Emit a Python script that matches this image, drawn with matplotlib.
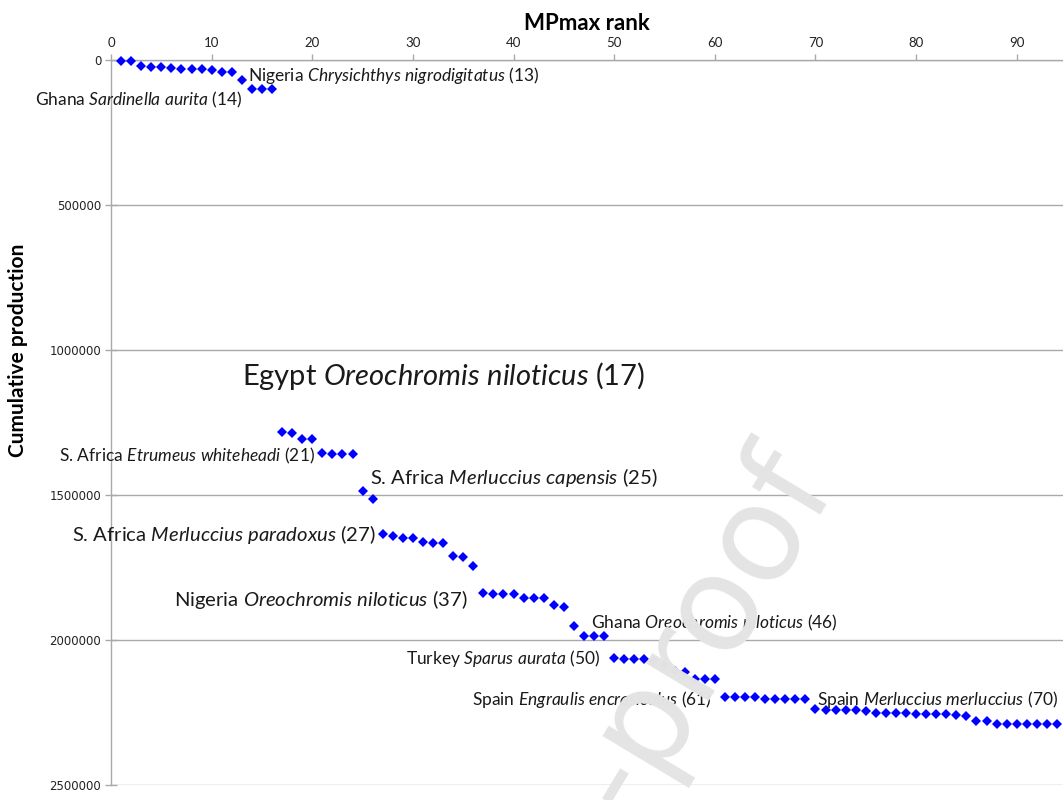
import matplotlib
matplotlib.use("Agg")
import matplotlib.pyplot as plt
from matplotlib.ticker import MultipleLocator, FuncFormatter

plt.rcParams["font.family"] = ["Lato", "DejaVu Sans"]
plt.rcParams["mathtext.fontset"] = "custom"
plt.rcParams["mathtext.rm"] = "Lato"
plt.rcParams["mathtext.it"] = "Lato:italic"

# MPmax rank and cumulative production (tonnes)
rank = list(range(1, 95))
cumulative = [
    3400, 3400, 19500, 23000, 25000, 28700, 32000, 32000, 32000, 34500,
    40000, 40000, 69000, 101000, 101000, 101500, 1281700, 1285000, 1308000, 1308000,
    1356000, 1359000, 1359000, 1359000, 1486000, 1515000, 1635000, 1641000, 1647000, 1647000,
    1663000, 1667000, 1667000, 1709000, 1715000, 1745000, 1837000, 1841000, 1841000, 1841000,
    1856000, 1856000, 1856000, 1879000, 1885000, 1952000, 1986000, 1986000, 1986000, 2061000,
    2064000, 2064000, 2066000, 2071000, 2086000, 2106000, 2109000, 2135000, 2135000, 2135000,
    2195000, 2195000, 2195000, 2195000, 2203000, 2203000, 2203000, 2203000, 2203000, 2238000,
    2240000, 2241000, 2242000, 2243000, 2245000, 2250000, 2252000, 2252000, 2253000, 2254000,
    2255000, 2255000, 2256000, 2260000, 2261000, 2280000, 2281000, 2288000, 2288000, 2288000,
    2288000, 2288000, 2288000, 2289000,
]

# Labelled stocks: rank, country, species
label_rank = [13, 14, 17, 21, 25, 27, 37, 46, 50, 61, 70]
label_country = ["Nigeria", "Ghana", "Egypt", "S. Africa", "S. Africa", "S. Africa",
                 "Nigeria", "Ghana", "Turkey", "Spain", "Spain"]
label_species = ["Chrysichthys nigrodigitatus", "Sardinella aurita", "Oreochromis niloticus",
                 "Etrumeus whiteheadi", "Merluccius capensis", "Merluccius paradoxus",
                 "Oreochromis niloticus", "Oreochromis niloticus", "Sparus aurata",
                 "Engraulis encrasicolus", "Merluccius merluccius"]

# label placement: offset in pixels from the point, alignment, font size
label_offset = [(6, 5), (-9, -11), (-40, 56), (-7, -3), (7, 13), (-7, 0),
                (-16, -7), (17, 3), (-14, -1), (-13, -3), (2, 10)]
label_ha = ["left", "right", "left", "right", "left", "right",
            "right", "left", "right", "right", "left"]
label_size = [12.5, 12.5, 21, 12.5, 14.6, 14.6, 14.6, 12.5, 12.5, 12.5, 12.5]

fig = plt.figure(figsize=(10.63, 8.0), dpi=100)
ax = fig.add_axes([111 / 1063, 15 / 800, 1 - 111 / 1063, 725 / 800])

ax.plot(rank, cumulative, linestyle="none", marker="D", markersize=4.9,
        color="#0000ff", markeredgewidth=0, zorder=3, clip_on=False)

ax.set_xlim(0, 94.6)
ax.set_ylim(2500000, 0)
ax.xaxis.tick_top()
ax.xaxis.set_label_position("top")
ax.xaxis.set_major_locator(MultipleLocator(10))
ax.yaxis.set_major_locator(MultipleLocator(500000))
ax.yaxis.set_major_formatter(FuncFormatter(lambda v, p: f"{int(v)}"))

grid_col = "#a9a9a9"
ax.grid(axis="y", color=grid_col, linewidth=1.0, zorder=0)
ax.set_axisbelow(True)
for side in ["right", "bottom"]:
    ax.spines[side].set_visible(False)
for side in ["left", "top"]:
    ax.spines[side].set_color(grid_col)
    ax.spines[side].set_linewidth(1.0)

ax.tick_params(axis="y", direction="inout", length=8, width=1.0, color=grid_col,
               labelsize=8.5, pad=3, labelcolor="#222222")
ax.tick_params(axis="x", direction="out", length=4, width=1.0, color=grid_col,
               labelsize=9.5, pad=4, labelcolor="#222222")
for t in ax.get_yticklabels():
    t.set_fontfamily("DejaVu Sans")

ax.set_xlabel("MPmax rank", fontsize=16, fontweight="bold", labelpad=5)
fig.text(18 / 1063, 1 - 350 / 800, "Cumulative production", rotation=90,
         fontsize=15, fontweight="bold", ha="center", va="center")

for r, c, s, off, ha, fs in zip(label_rank, label_country, label_species,
                                label_offset, label_ha, label_size):
    sp = s.replace(" ", r"\ ")
    ax.annotate(f"{c} $\\mathit{{{sp}}}$ ({r})", xy=(r, cumulative[r - 1]),
                xytext=off, textcoords="offset pixels", ha=ha, va="center",
                fontsize=fs, color="#1a1a1a", zorder=4, annotation_clip=False)

# watermark
fig.text(842 / 1063, 1 - 492 / 800, "Journal Pre-proof", rotation=59,
         rotation_mode="anchor", ha="right", va="baseline", fontsize=96,
         color="#e4e4e4", family="DejaVu Sans", zorder=10)

fig.savefig("out.png", dpi=100)
